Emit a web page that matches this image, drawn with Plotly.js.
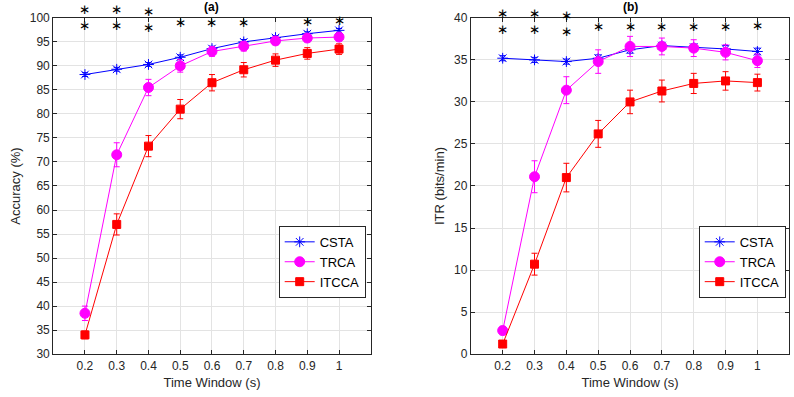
<!DOCTYPE html>
<html>
<head>
<meta charset="utf-8">
<script src="https://cdn.plot.ly/plotly-3.0.1.min.js"></script>
<style>
  html, body { margin: 0; padding: 0; background: white; }
  #plot-area { width: 794px; height: 397px; }
</style>
</head>
<body>
<div id="plot-area"></div>
<script>
// time windows (s)
const timeWindows = [0.2, 0.3, 0.4, 0.5, 0.6, 0.7, 0.8, 0.9, 1.0];

// (a) accuracy (%)
const accCSTA = [88.2, 89.3, 90.3, 91.8, 93.6, 95.0, 95.9, 96.7, 97.4];
const accCSTAErr = [0.4, 0.4, 0.4, 0.5, 0.5, 0.5, 0.4, 0.4, 0.4];
const accTRCA = [38.5, 71.5, 85.5, 90.0, 93.0, 94.1, 95.2, 95.8, 96.0];
const accTRCAErr = [1.5, 2.5, 1.7, 1.3, 1.0, 1.0, 0.8, 0.8, 0.8];
const accITCCA = [34.0, 57.0, 73.3, 81.0, 86.5, 89.2, 91.2, 92.6, 93.5];
const accITCCAErr = [0.8, 2.2, 2.2, 2.0, 1.7, 1.5, 1.3, 1.2, 1.1];

// (b) ITR (bits/min)
const itrCSTA = [35.2, 35.0, 34.8, 35.2, 36.2, 36.7, 36.5, 36.3, 36.0];
const itrCSTAErr = [0.3, 0.3, 0.3, 0.4, 0.4, 0.4, 0.4, 0.4, 0.4];
const itrTRCA = [2.8, 21.1, 31.4, 34.8, 36.6, 36.6, 36.4, 35.9, 34.9];
const itrTRCAErr = [0.5, 1.9, 1.6, 1.4, 1.2, 1.0, 1.0, 0.9, 0.8];
const itrITCCA = [1.2, 10.7, 21.0, 26.2, 30.0, 31.3, 32.2, 32.5, 32.3];
const itrITCCAErr = [0.2, 1.3, 1.7, 1.6, 1.4, 1.3, 1.2, 1.1, 1.0];

// significance stars: column, number of stars, centre of the group (data units)
const sigAX = [0.2, 0.3, 0.4, 0.5, 0.6, 0.7, 0.9, 1.0];
const sigACount = [2, 2, 2, 1, 1, 1, 1, 1];
const sigAY = [100.05, 100.05, 99.65, 99.0, 99.0, 99.0, 99.2, 99.4];
const sigBX = [0.2, 0.3, 0.4, 0.5, 0.6, 0.7, 0.8, 0.9, 1.0];
const sigBCount = [2, 2, 2, 1, 1, 1, 1, 1, 1];
const sigBY = [39.55, 39.55, 39.3, 39.0, 39.0, 39.0, 39.0, 39.0, 39.1];

const rangeA = [30, 100];
const rangeB = [0, 40];

const seriesStyle = [
    { name: 'CSTA', color: '#0000ff', symbol: 'asterisk-open', size: 9 },
    { name: 'TRCA', color: '#ff00ff', symbol: 'circle', size: 10 },
    { name: 'ITCCA', color: '#ff0000', symbol: 'square', size: 8 }
];

function makeSeries(ys, errs, style, xa, ya, legend) {
    return {
        x: timeWindows, y: ys,
        xaxis: xa, yaxis: ya,
        type: 'scatter', mode: 'lines+markers',
        name: style.name,
        legend: legend,
        line: { color: style.color, width: 1 },
        marker: { symbol: style.symbol, size: style.size, color: style.color, line: { color: style.color, width: 1 } },
        error_y: { type: 'data', array: errs, visible: true, color: style.color, thickness: 1, width: 3 },
        hoverinfo: 'none'
    };
}

const data = [
    makeSeries(accCSTA, accCSTAErr, seriesStyle[0], 'x', 'y', 'legend'),
    makeSeries(accTRCA, accTRCAErr, seriesStyle[1], 'x', 'y', 'legend'),
    makeSeries(accITCCA, accITCCAErr, seriesStyle[2], 'x', 'y', 'legend'),
    makeSeries(itrCSTA, itrCSTAErr, seriesStyle[0], 'x2', 'y2', 'legend2'),
    makeSeries(itrTRCA, itrTRCAErr, seriesStyle[1], 'x2', 'y2', 'legend2'),
    makeSeries(itrITCCA, itrITCCAErr, seriesStyle[2], 'x2', 'y2', 'legend2')
];

// stars as annotations; y in axis-domain units so they may sit above the range.
// base font sets the line gap, the glyph is drawn a bit larger
const starGlyph = '<span style="font-size:13.4px">∗</span>';
function starAnnotations(xs, counts, ys, xref, yref, range) {
    return xs.map((x, i) => ({
        x: x, xref: xref,
        y: (ys[i] - range[0]) / (range[1] - range[0]), yref: yref + ' domain',
        text: Array(counts[i]).fill(starGlyph).join('<br>'),
        showarrow: false,
        xanchor: 'center', yanchor: 'middle',
        font: { family: 'DejaVu Sans', size: 12, color: '#000000' }
    }));
}

const tickFont = { family: 'Liberation Sans, Arial, sans-serif', size: 12, color: '#262626' };
const xTickText = ['0.2', '0.3', '0.4', '0.5', '0.6', '0.7', '0.8', '0.9', '1'];

function xAxis(domain, anchor) {
    return {
        domain: domain, anchor: anchor,
        range: [0.1, 1.1],
        tickvals: timeWindows, ticktext: xTickText,
        ticks: 'inside', ticklen: 4, tickcolor: '#262626',
        showline: true, linecolor: '#262626', linewidth: 1, mirror: 'ticks',
        showgrid: true, gridcolor: '#e3e3e3', zeroline: false,
        tickfont: tickFont,
        title: { text: 'Time Window (s)', font: { family: 'Liberation Sans, Arial, sans-serif', size: 13, color: '#262626' }, standoff: 6 }
    };
}

function yAxis(range, titleText, anchor) {
    return {
        domain: [0.108, 0.955], anchor: anchor,
        range: range, dtick: 5,
        ticks: 'inside', ticklen: 4, tickcolor: '#262626',
        showline: true, linecolor: '#262626', linewidth: 1, mirror: 'ticks',
        showgrid: true, gridcolor: '#e3e3e3', zeroline: false,
        tickfont: tickFont,
        title: { text: titleText, font: { family: 'Liberation Sans, Arial, sans-serif', size: 13, color: '#262626' }, standoff: 6 }
    };
}

const legendStyle = {
    bgcolor: 'white', bordercolor: '#262626', borderwidth: 1,
    font: { family: 'Liberation Sans, Arial, sans-serif', size: 13, color: '#000000' },
    xanchor: 'left', yanchor: 'top', tracegroupgap: 0,
    itemwidth: 30
};

const titleFont = { family: 'Liberation Sans, Arial, sans-serif', size: 12, color: '#000000' };

const layout = {
    width: 794, height: 397,
    margin: { l: 0, r: 0, t: 0, b: 0 },
    paper_bgcolor: 'white', plot_bgcolor: 'white',
    xaxis: xAxis([0.067, 0.467], 'y'),
    yaxis: yAxis(rangeA, 'Accuracy (%)', 'x'),
    xaxis2: xAxis([0.593, 0.994], 'y2'),
    yaxis2: yAxis(rangeB, 'ITR (bits/min)', 'x2'),
    legend: Object.assign({ x: 0.351, y: 0.431 }, legendStyle),
    legend2: Object.assign({ x: 0.880, y: 0.431 }, legendStyle),
    annotations: [
        { text: '<b>(a)</b>', xref: 'x domain', yref: 'paper', x: 0.5, y: 0.982, yanchor: 'middle', showarrow: false, font: titleFont },
        { text: '<b>(b)</b>', xref: 'x2 domain', yref: 'paper', x: 0.5, y: 0.982, yanchor: 'middle', showarrow: false, font: titleFont }
    ].concat(starAnnotations(sigAX, sigACount, sigAY, 'x', 'y', rangeA),
             starAnnotations(sigBX, sigBCount, sigBY, 'x2', 'y2', rangeB))
};

Plotly.newPlot('plot-area', data, layout, { displayModeBar: false, staticPlot: true });
</script>
</body>
</html>
